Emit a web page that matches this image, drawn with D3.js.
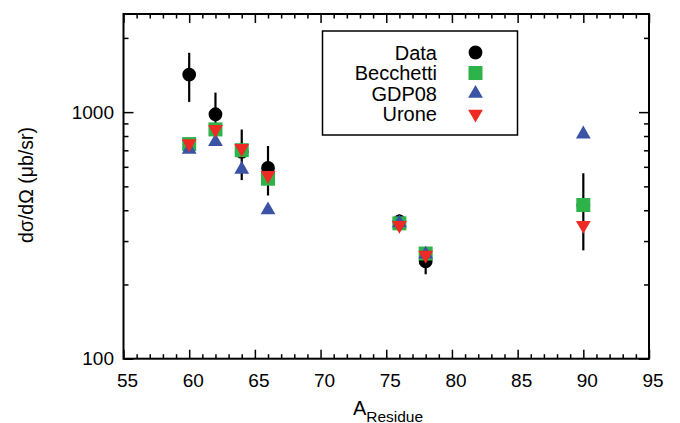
<!DOCTYPE html>
<html><head><meta charset="utf-8">
<script src="https://cdn.jsdelivr.net/npm/d3@7"></script>
<style>body{margin:0;background:#fff}text{font-family:"Liberation Sans",Arial,sans-serif}</style>
</head><body>
<svg id="c" width="680" height="423"></svg>
<script>
const residue = [60, 62, 64, 66, 76, 78, 90];
const dataVals = [1420, 980, 690, 594, 360, 248, 420];
const dataErr = [320, 220, 160, 135, 25, 28, 145];
const becchetti = [742, 851, 701, 537, 354, 267, 420];
const gdp08 = [705, 758, 586, 401, 355, 265, 814];
const urone = [745, 851, 713, 554, 348, 263, 348];
const xTicks = [55, 60, 65, 70, 75, 80, 85, 90, 95];
const yTicks = [100, 1000];
const legendLabels = ["Data", "Becchetti", "GDP08", "Urone"];

const L = 123.5, R = 649, T = 14, B = 358.7;
const svg = d3.select("#c");
const x = d3.scaleLinear().domain([55, 95]).range([L, R]);
const y = d3.scaleLog().domain([100, 2500]).range([B, T]);

const minorX = d3.range(55, 96, 1).filter(v => v % 5 !== 0);
const minorY = [200,300,400,500,600,700,800,900,2000];

// axes
const gB = svg.append("g").attr("transform", `translate(0,${B})`);
gB.call(d3.axisBottom(x).tickValues(xTicks).tickSize(-9).tickPadding(14).tickFormat(d3.format("d")));
gB.selectAll(".tick text").attr("dx", 3.5).attr("dy", 0).attr("y", 28);
const gBm = svg.append("g").attr("transform", `translate(0,${B})`);
gBm.call(d3.axisBottom(x).tickValues(minorX).tickSize(-4.5).tickFormat(""));
const gT = svg.append("g").attr("transform", `translate(0,${T})`);
gT.call(d3.axisTop(x).tickValues(xTicks).tickSize(-9).tickFormat(""));
const gTm = svg.append("g").attr("transform", `translate(0,${T})`);
gTm.call(d3.axisTop(x).tickValues(minorX).tickSize(-4.5).tickFormat(""));
const gL = svg.append("g").attr("transform", `translate(${L},0)`);
gL.call(d3.axisLeft(y).tickValues(yTicks).tickSize(-10).tickPadding(9.5).tickFormat(d3.format("d")));
const gLm = svg.append("g").attr("transform", `translate(${L},0)`);
gLm.call(d3.axisLeft(y).tickValues(minorY).tickSize(-5).tickFormat(""));
const gR = svg.append("g").attr("transform", `translate(${R},0)`);
gR.call(d3.axisRight(y).tickValues(yTicks).tickSize(-10).tickFormat(""));
const gRm = svg.append("g").attr("transform", `translate(${R},0)`);
gRm.call(d3.axisRight(y).tickValues(minorY).tickSize(-5).tickFormat(""));
svg.selectAll(".domain").remove();
svg.selectAll(".tick line").attr("stroke", "#000").attr("stroke-width", 1.5);
svg.selectAll(".tick text").attr("font-size", 19).attr("fill", "#000");

svg.append("rect").attr("x", L).attr("y", T).attr("width", R - L).attr("height", B - T)
  .attr("fill", "none").attr("stroke", "#000").attr("stroke-width", 2);

// titles
const xt = svg.append("text").attr("x", 388).attr("y", 415).attr("text-anchor", "middle").attr("font-size", 20);
xt.append("tspan").text("A");
xt.append("tspan").attr("font-size", 15.5).attr("dy", 6.5).text("Residue");
svg.append("text").attr("transform", `translate(33,185) rotate(-90)`).attr("text-anchor", "middle")
  .attr("font-size", 19.5).text("dσ/dΩ (μb/sr)");

const plot = svg.append("g");
const idx = d3.range(residue.length);
// error bars
plot.selectAll(".err").data(idx).join("line")
  .attr("x1", i => x(residue[i])).attr("x2", i => x(residue[i]))
  .attr("y1", i => y(dataVals[i] + dataErr[i])).attr("y2", i => y(dataVals[i] - dataErr[i]))
  .attr("stroke", "#000").attr("stroke-width", 2.2);
const sym = {
  circle: d3.symbol().type(d3.symbolCircle).size(150),
  square: d3.symbol().type(d3.symbolSquare).size(196),
  tri: d3.symbol().type(d3.symbolTriangle).size(95)
};
plot.selectAll(".d").data(idx).join("path").attr("d", sym.circle())
  .attr("transform", i => `translate(${x(residue[i])},${y(dataVals[i])})`).attr("fill", "#000");
plot.selectAll(".b").data(idx).join("path").attr("d", sym.square())
  .attr("transform", i => `translate(${x(residue[i])},${y(becchetti[i])})`).attr("fill", "#2db34a");
plot.selectAll(".g").data(idx).join("path").attr("d", sym.tri())
  .attr("transform", i => `translate(${x(residue[i])},${y(gdp08[i])})`).attr("fill", "#3a53a4");
plot.selectAll(".u").data(idx).join("path").attr("d", sym.tri())
  .attr("transform", i => `translate(${x(residue[i])},${y(urone[i])}) rotate(180)`).attr("fill", "#ee2a24");

// legend
svg.append("rect").attr("x", 322.5).attr("y", 31).attr("width", 195).attr("height", 104)
  .attr("fill", "#fff").attr("stroke", "#000").attr("stroke-width", 1.5);
const legSym = [
  [sym.circle, "#000", 0],
  [sym.square, "#2db34a", 0],
  [sym.tri, "#3a53a4", 0],
  [sym.tri, "#ee2a24", 180]
];
legendLabels.forEach((lab, i) => {
  const cy = 52.5 + i * 20.5;
  svg.append("text").attr("x", 437).attr("y", cy + 7).attr("text-anchor", "end").attr("font-size", 20).text(lab);
  svg.append("path").attr("d", legSym[i][0]()).attr("fill", legSym[i][1])
    .attr("transform", `translate(475.5,${cy}) rotate(${legSym[i][2]})`);
});
</script>
</body></html>
